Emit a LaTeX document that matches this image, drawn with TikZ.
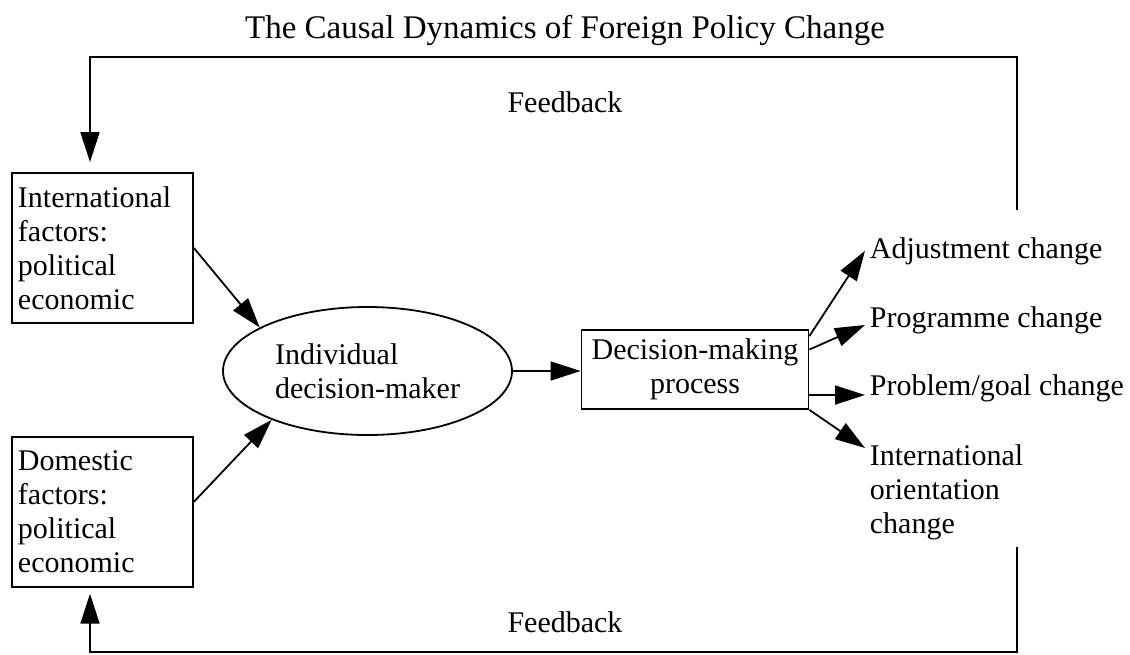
\documentclass[tikz,border=0pt]{standalone}
\usepackage{fontspec}
\setmainfont{Liberation Serif}
\usetikzlibrary{shapes.geometric,arrows.meta}
\usetikzlibrary{positioning}

\begin{document}
\begin{tikzpicture}[x=0.5pt, y=-0.5pt, >={Triangle[length=15pt,width=9.5pt]}, line width=0.9pt,
		every node/.style={font=\fontsize{15}{17}\selectfont},
		factor/.style={draw, align=left, text width=84.5pt, minimum width=90.5pt, minimum height=75pt, inner xsep=3pt},
		outcome/.style={align=left, anchor=base west, inner xsep=2pt, inner ysep=0pt}]
			\useasboundingbox (0,0) rectangle (1130,654);
			\node[font=\fontsize{16.5}{19}\selectfont] (Title) at (565,30) {The Causal Dynamics of Foreign Policy Change};
			\node (FbTop) at (565,102) {Feedback};
			\node (FbBot) at (565,622) {Feedback};
			\node[factor] (Intl) at (102.5,248) {International\\factors:\\political\\economic};
			\node[factor, below=56pt of Intl] (Dom) {Domestic\\factors:\\political\\economic};
			\node[draw, ellipse, align=left, minimum width=144.5pt, minimum height=64pt, inner sep=0pt] (Indiv) at (367.5,371) {Individual\\decision-maker};
			\node[draw, align=center, minimum width=113.5pt, minimum height=39.5pt] (Proc) at (695,369.5) {Decision-making\\process};
			\node[outcome] (Adj) at (865,258) {Adjustment change};
			\node[outcome] (Prog) at (865,327) {Programme change};
			\node[outcome] (Prob) at (865,395) {Problem/goal change};
			\node[outcome, anchor=north west] (Orient) at (865,444) {International\\orientation\\change};
			\coordinate (TopL) at (90,57);
			\coordinate (TopR) at (1017,210);
			\coordinate (BotL) at (90,652);
			\coordinate (BotR) at (1017,547);
			% inputs
			\draw[->] (Intl.east) -- (Indiv.158);
			\draw[->] ([yshift=5pt]Dom.east) -- (Indiv.207);
			\draw[->] (Indiv.east) -- (Indiv.east -| Proc.west);
			% outcomes
			\draw[->] ([yshift=-3.5pt]Proc.north east) -- (Adj.west);
			\draw[->] ([yshift=10pt]Proc.east) -- ([yshift=1pt]Prog.base west);
			\draw[->] (Proc.east |- Prob.base) -- (Prob.base west);
			\draw[->] (Proc.south east) -- ([yshift=-2pt]Orient.north west);
			% feedback loops
			\draw[->, shorten >=5pt] (TopR) |- (TopL) -- (TopL |- Intl.north);
			\draw[->, shorten >=3pt] (BotR) |- (BotL) -- (BotL |- Dom.south);
		\end{tikzpicture}
\end{document}
